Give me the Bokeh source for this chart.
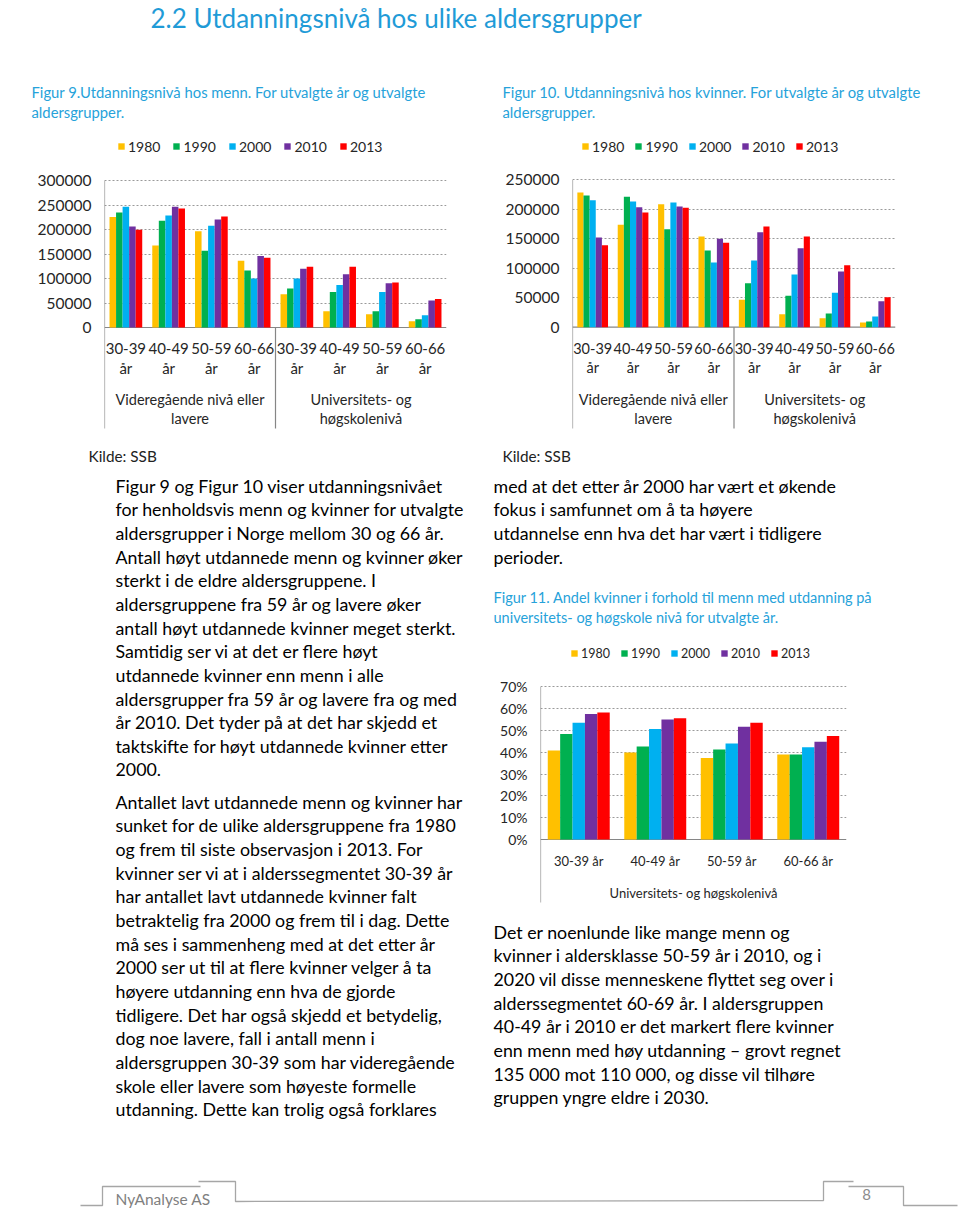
import numpy as np
from bokeh.plotting import figure
from bokeh.models import (Range1d, FixedTicker, ColumnDataSource, Legend,
                          LegendItem, NumeralTickFormatter)
from bokeh.layouts import column, row
from bokeh.core.properties import value
from bokeh.embed import file_html
from bokeh.resources import INLINE

# ---------------- data ----------------
years = ["1980", "1990", "2000", "2010", "2013"]
year_colors = ["#FFC000", "#00B050", "#00B0F0", "#7030A0", "#FF0000"]
age_groups = ["30-39", "40-49", "50-59", "60-66"]
age_groups_long = ["30-39 år", "40-49 år", "50-59 år", "60-66 år"]
level_line1 = ["Videregående nivå eller", "Universitets- og"]
level_line2 = ["lavere", "høgskolenivå"]

# Figur 9: menn (4 aldersgrupper videregående eller lavere, 4 universitet/høgskole)
men_1980 = [225300, 167600, 196200, 136400, 67900, 33300, 27100, 12900]
men_1990 = [234800, 217900, 156800, 116100, 79400, 72600, 33300, 17000]
men_2000 = [246400, 228700, 207700, 99800, 99800, 86900, 72600, 25100]
men_2010 = [206300, 246400, 220600, 145900, 120100, 108600, 90300, 55000]
men_2013 = [199500, 243000, 226700, 142500, 124200, 124200, 91600, 58400]

# Figur 10: kvinner
women_1980 = [228500, 173600, 208700, 153800, 46400, 22100, 15300, 7900]
women_1990 = [223400, 221200, 166300, 130100, 74700, 53200, 23200, 9600]
women_2000 = [215500, 213200, 211500, 109700, 113100, 89400, 58300, 18100]
women_2010 = [152100, 203600, 204800, 149900, 161200, 134000, 94500, 44100]
women_2013 = [139100, 194600, 202500, 143100, 170800, 153800, 105200, 50900]

# Figur 11: andel kvinner, universitets- og høgskolenivå
share_1980 = [0.408, 0.399, 0.374, 0.390]
share_1990 = [0.484, 0.426, 0.413, 0.390]
share_2000 = [0.535, 0.506, 0.440, 0.423]
share_2010 = [0.575, 0.550, 0.517, 0.448]
share_2013 = [0.582, 0.556, 0.535, 0.474]

men_ticks = [0, 50000, 100000, 150000, 200000, 250000, 300000]
women_ticks = [0, 50000, 100000, 150000, 200000, 250000]
share_ticks = [0, 0.1, 0.2, 0.3, 0.4, 0.5, 0.6, 0.7]

title_text = "2.2  Utdanningsnivå hos ulike aldersgrupper"
cap9 = ["Figur 9.Utdanningsnivå hos menn. For utvalgte år og utvalgte", "aldersgrupper."]
cap10 = ["Figur 10. Utdanningsnivå hos kvinner. For utvalgte år og utvalgte", "aldersgrupper."]
cap11 = ["Figur 11. Andel kvinner i forhold til menn med utdanning på",
         "universitets- og høgskole nivå for utvalgte år."]
source_text = "Kilde: SSB"

para1 = ["Figur 9 og Figur 10 viser utdanningsnivået",
         "for henholdsvis menn og kvinner for utvalgte",
         "aldersgrupper i Norge mellom 30 og 66 år.",
         "Antall høyt utdannede menn og kvinner øker",
         "sterkt i de eldre aldersgruppene. I",
         "aldersgruppene fra 59 år og lavere øker",
         "antall høyt utdannede kvinner meget sterkt.",
         "Samtidig ser vi at det er flere høyt",
         "utdannede kvinner enn menn i alle",
         "aldersgrupper fra 59 år og lavere fra og med",
         "år 2010.  Det tyder på at det har skjedd et",
         "taktskifte for høyt utdannede kvinner etter",
         "2000."]
para2 = ["Antallet lavt utdannede menn og kvinner har",
         "sunket for de ulike aldersgruppene fra 1980",
         "og frem til siste observasjon i 2013. For",
         "kvinner ser vi at i alderssegmentet 30-39 år",
         "har antallet lavt utdannede kvinner falt",
         "betraktelig fra 2000 og frem til i dag. Dette",
         "må ses i sammenheng med at det etter år",
         "2000 ser ut til at flere kvinner velger å ta",
         "høyere utdanning enn hva de gjorde",
         "tidligere.  Det har også skjedd et betydelig,",
         "dog noe lavere, fall i antall menn i",
         "aldersgruppen 30-39 som har videregående",
         "skole eller lavere som høyeste formelle",
         "utdanning. Dette kan trolig også forklares"]
para3 = ["med at det etter år 2000 har vært et økende",
         "fokus i samfunnet om å ta høyere",
         "utdannelse enn hva det har vært i tidligere",
         "perioder."]
para4 = ["Det er noenlunde like mange menn og",
         "kvinner i aldersklasse 50-59 år i 2010, og i",
         "2020 vil disse menneskene flyttet seg over i",
         "alderssegmentet 60-69 år.  I aldersgruppen",
         "40-49 år i 2010 er det markert flere kvinner",
         "enn menn med høy utdanning – grovt regnet",
         "135 000 mot 110 000, og disse vil tilhøre",
         "gruppen yngre eldre i 2030."]
footer_name = "NyAnalyse AS"
page_no = "8"

# ---------------- style ----------------
FONT = "Lato"
BLUE = "#1F9BD7"
CAP_BLUE = "#26A2DA"
LABEL = "#262626"
GRID = "#9A9A9A"
AXIS = "#868686"
LINE_DY = 23.68
BODY = "17.8px"


def text_fig(w, h):
    p = figure(width=w, height=h, x_range=Range1d(0, w), y_range=Range1d(h, 0),
               x_axis_type=None, y_axis_type=None, toolbar_location=None,
               output_backend="svg", min_border=0, outline_line_color=None, title=None)
    p.background_fill_color = "white"
    p.border_fill_color = "white"
    return p


def put_lines(p, origin, size_wh, x, y0, lines, size, color, align="left", dy=LINE_DY):
    ox, oy = origin
    w, h = size_wh
    xs, ys, ts = [], [], []
    for i, t in enumerate(lines):
        ly = y0 - oy + i * dy
        if 6 <= ly <= h - 6:
            xs.append(x - ox)
            ys.append(ly)
            ts.append(t)
    if not ts:
        return
    src = ColumnDataSource(dict(x=xs, y=ys, t=ts))
    p.text(x="x", y="y", text="t", source=src, text_font=value(FONT),
           text_font_size=size, text_color=color, text_align=align,
           text_baseline="middle")


def make_chart(w, h, frame_l, frame_r, top_px, top_val, zero_px, ticks, series,
               bar_w, fmt, tick_size, legend_pos, legend_size, legend_spacing,
               axis_end_px, separators):
    n = len(series[0])
    per_px = top_val / (zero_px - top_px)
    y_hi = top_val + top_px * per_px
    y_lo = top_val - (h - top_px) * per_px
    to_y = lambda py: top_val - (py - top_px) * per_px
    p = figure(width=w, height=h, x_range=Range1d(0, n), y_range=Range1d(y_lo, y_hi),
               x_axis_location=None, toolbar_location=None, output_backend="svg",
               min_border_left=frame_l, min_border_right=w - frame_r,
               min_border_top=0, min_border_bottom=0, outline_line_color=None, title=None)
    p.background_fill_color = "white"
    p.border_fill_color = "white"
    p.xgrid.visible = False
    p.ygrid.ticker = FixedTicker(ticks=ticks[1:])
    p.ygrid.grid_line_color = GRID
    p.ygrid.grid_line_dash = "2 2"
    p.ygrid.grid_line_width = 1
    ax = p.yaxis[0]
    ax.ticker = FixedTicker(ticks=ticks)
    ax.formatter = NumeralTickFormatter(format=fmt)
    ax.axis_line_color = None
    ax.major_tick_line_color = None
    ax.minor_tick_line_color = None
    ax.major_label_standoff = 7
    ax.major_label_text_font = FONT
    ax.major_label_text_font_size = tick_size
    ax.major_label_text_color = LABEL

    # axis lines: left axis, baseline, group separators
    p.segment(x0=[0], y0=[ticks[-1]], x1=[0], y1=[to_y(axis_end_px)],
              line_color=AXIS, line_width=1.2)
    p.segment(x0=[0], y0=[0], x1=[n], y1=[0], line_color=AXIS, line_width=1.2)
    for s in separators:
        p.segment(x0=[s], y0=[0], x1=[s], y1=[to_y(axis_end_px)],
                  line_color=AXIS, line_width=1.2)

    rs = []
    for j, (yr, col, vals) in enumerate(zip(years, year_colors, series)):
        xs = np.arange(n) + 0.5 + (j - 2) * bar_w
        src = ColumnDataSource(dict(x=xs, top=vals))
        r = p.vbar(x="x", top="top", width=bar_w, bottom=0, source=src,
                   fill_color=col, line_color=None)
        rs.append(r)
    lx, lcy = legend_pos
    leg = Legend(items=[LegendItem(label=yr, renderers=[r]) for yr, r in zip(years, rs)],
                 orientation="horizontal", location=(lx, h - lcy - 9),
                 glyph_width=8, glyph_height=8, label_standoff=3,
                 spacing=int(legend_spacing), padding=0, margin=0,
                 label_text_font=FONT, label_text_font_size=legend_size,
                 label_text_color=LABEL, label_height=18,
                 border_line_alpha=0, background_fill_alpha=0)
    p.add_layout(leg, "center")
    return p, to_y, n


def cat_labels(p, to_y, oy, xs, py, labels, size):
    p.text(x=list(xs), y=[to_y(py - oy)] * len(labels), text=labels, text_font=value(FONT),
           text_font_size=size, text_color=LABEL, text_align="center", text_baseline="middle")


# ---------------- header ----------------
O_HEAD, S_HEAD = (0, 0), (960, 135)
head = text_fig(*S_HEAD)
put_lines(head, O_HEAD, S_HEAD, 150, 17, [title_text], "26px", BLUE)
put_lines(head, O_HEAD, S_HEAD, 31, 91, cap9, "14.8px", CAP_BLUE, dy=20)
put_lines(head, O_HEAD, S_HEAD, 502, 91, cap10, "14.8px", CAP_BLUE, dy=20)

# ---------------- chart 9 (menn) ----------------
O9 = (0, 135)
c9, y9, n9 = make_chart(470, 305, 104, 446, 180 - 135, 300000, 327 - 135,
                        men_ticks, [men_1980, men_1990, men_2000, men_2010, men_2013],
                        0.153, "0", "15.5px", (13, 146 - 135), "14px", 12,
                        428 - 135, [4])
xc = np.arange(n9) + 0.5
cat_labels(c9, y9, 135, xc, 348, age_groups * 2, "15px")
cat_labels(c9, y9, 135, xc, 367, ["år"] * n9, "15px")
cat_labels(c9, y9, 135, [2, 6], 399, level_line1, "14.5px")
cat_labels(c9, y9, 135, [2, 6], 418, level_line2, "14.5px")

# ---------------- chart 10 (kvinner) ----------------
O10 = (470, 135)
c10, y10, n10 = make_chart(490, 305, 572 - 470, 895 - 470, 179.3 - 135, 250000, 326.7 - 135,
                           women_ticks, [women_1980, women_1990, women_2000, women_2010, women_2013],
                           0.152, "0", "15.5px", (9, 146 - 135), "14px", 10,
                           428 - 135, [4])
xc = np.arange(n10) + 0.5
cat_labels(c10, y10, 135, xc, 348, age_groups * 2, "14.5px")
cat_labels(c10, y10, 135, xc, 367, ["år"] * n10, "14.5px")
cat_labels(c10, y10, 135, [2, 6], 399, level_line1, "14.5px")
cat_labels(c10, y10, 135, [2, 6], 418, level_line2, "14.5px")

# ---------------- lower part: three rows ----------------
bands = [(440, 199), (639, 269), (908, 252)]
left_figs = []
for (oy, h) in bands:
    f = text_fig(470, h)
    put_lines(f, (0, oy), (470, h), 88, 455, [source_text], "15.3px", "#222222")
    put_lines(f, (0, oy), (470, h), 115, 485, para1, BODY, "#000000")
    put_lines(f, (0, oy), (470, h), 115, 801, para2, BODY, "#000000")
    left_figs.append(f)

O_RT, S_RT = (470, 440), (490, 199)
rt = text_fig(*S_RT)
put_lines(rt, O_RT, S_RT, 502, 455, [source_text], "15.3px", "#222222")
put_lines(rt, O_RT, S_RT, 493, 485, para3, BODY, "#000000")
put_lines(rt, O_RT, S_RT, 493, 597, cap11, "14.5px", CAP_BLUE, dy=20)

O11 = (470, 639)
c11, y11, n11 = make_chart(490, 269, 540 - 470, 846 - 470, 686.3 - 639, 0.7, 839 - 639,
                           share_ticks, [share_1980, share_1990, share_2000, share_2010, share_2013],
                           0.162, "0%", "14px", (30, 653 - 639), "12.5px", 10,
                           902 - 639, [])
cat_labels(c11, y11, 639, np.arange(n11) + 0.5, 860, age_groups_long, "13px")
cat_labels(c11, y11, 639, [2], 892, ["Universitets- og høgskolenivå"], "13px")

O_RB, S_RB = (470, 908), (490, 252)
rb = text_fig(*S_RB)
put_lines(rb, O_RB, S_RB, 493, 931, para4, BODY, "#000000")

# ---------------- footer ----------------
O_F, S_F = (0, 1160), (960, 48)
foot = text_fig(*S_F)
FL = "#A6A6A6"
for xs, ys in [([80, 102, 102, 200], [1205, 1205, 1186, 1186]),
               ([198, 235, 235, 823, 823, 853], [1181, 1181, 1201, 1200, 1181, 1181]),
               ([848, 903, 903, 957], [1186, 1186, 1205, 1205])]:
    foot.line(x=[v - O_F[0] for v in xs], y=[v - O_F[1] for v in ys],
              line_color=FL, line_width=1.3)
put_lines(foot, O_F, S_F, 115, 1198, [footer_name], "15.5px", "#7F7F7F")
put_lines(foot, O_F, S_F, 866, 1194, [page_no], "15px", "#8C8C8C", align="center")

layout = column(head, row(c9, c10), row(left_figs[0], rt), row(left_figs[1], c11),
                row(left_figs[2], rb), foot)
open("out.html", "w").write(file_html(layout, INLINE))
